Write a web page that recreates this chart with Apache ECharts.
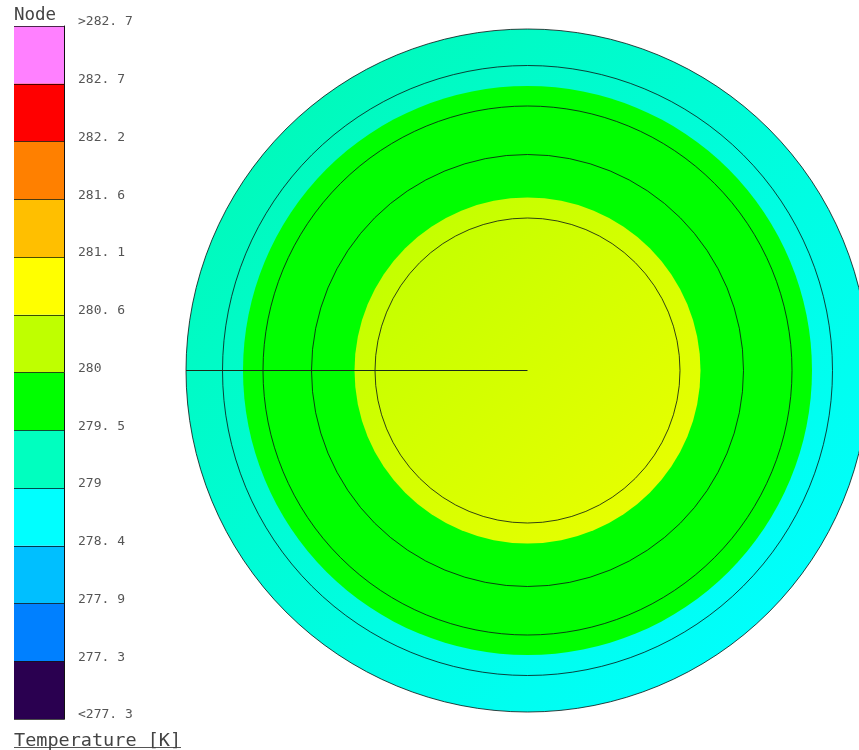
<!DOCTYPE html>
<html><head><meta charset="utf-8">
<style>html,body{margin:0;padding:0;background:#fff}#c{width:859px;height:750px}</style>
<script src="https://cdn.jsdelivr.net/npm/echarts@6/dist/echarts.min.js"></script>
</head><body><div id="c"></div>
<script>
const bandLabels = ['>282.7 band','282.7 band','282.2 band','281.6 band','281.1 band','280.6 band','280 band','279.5 band','279 band','278.4 band','277.9 band','277.3 band'];
const tickLabels = ['>282. 7','282. 7','282. 2','281. 6','281. 1','280. 6','280','279. 5','279','278. 4','277. 9','277. 3','<277. 3'];
const bandColors = ['#ff80ff','#ff0000','#ff8000','#ffbf00','#ffff00','#bfff00','#00ff00','#00ffbf','#00ffff','#00bfff','#0080ff','#2a0050'];
const bandExtent = [1,1,1,1,1,1,1,1,1,1,1,1];
const outerRadius = 341.5;
const zoneRadii = [341.5, 284.5, 173];
const contourRadii = [341.5, 305, 264.5, 216, 152.5];
const sliceLine = [0, 341.5];
const sector = ['disc'];

function grad(a, b) {
  return new echarts.graphic.LinearGradient(0.1, 0.1, 0.9, 0.9, [{offset:0,color:a},{offset:1,color:b}]);
}
const zoneFills = [grad('#00fab8','#00ffff'), '#00ff00', grad('#c2ff00','#e8ff00')];

const series = [];
zoneRadii.forEach((r, i) => series.push({
  type:'bar', coordinateSystem:'polar', polarIndex:0, barCategoryGap:'0%', barGap:'-100%',
  data:[r], itemStyle:{color:zoneFills[i]}, silent:true, z:2+i
}));
contourRadii.forEach(r => series.push({
  type:'bar', coordinateSystem:'polar', polarIndex:0, barCategoryGap:'0%', barGap:'-100%',
  data:[r], itemStyle:{color:'rgba(0,0,0,0)', borderColor:'rgba(10,20,20,0.8)', borderWidth:1}, silent:true, z:6
}));
series.push({
  type:'line', coordinateSystem:'polar', polarIndex:0, symbol:'none', silent:true, z:7,
  lineStyle:{color:'#1a2a1a', width:1},
  data: sliceLine.map(r => [r, sector[0]])
});
bandExtent.forEach((v, i) => series.push({
  type:'bar', xAxisIndex:0, yAxisIndex:0, stack:'bar', barWidth:'100%', silent:true,
  data: bandExtent.map((e, j) => j === i ? e : null),
  itemStyle:{color:bandColors[i]}
}));

const chart = echarts.init(document.getElementById('c'), null, {renderer:'canvas'});
chart.setOption({
  animation:false,
  backgroundColor:'#fff',
  title:[
    {text:'Node', left:14, top:6, padding:0, textStyle:{fontFamily:'DejaVu Sans Mono', fontSize:17.5, fontWeight:'normal', color:'#444'}},
    {text:'Temperature [K]', left:14, top:732, padding:0, textStyle:{fontFamily:'DejaVu Sans Mono', fontSize:18.5, fontWeight:'normal', color:'#444'}}
  ],
  polar:{center:[527.5,370.5], radius:outerRadius},
  angleAxis:{type:'category', data:sector, startAngle:0, boundaryGap:true, axisLine:{show:false}, axisTick:{show:false}, axisLabel:{show:false}, splitLine:{show:false}},
  radiusAxis:{type:'value', min:0, max:outerRadius, axisLine:{show:false}, axisTick:{show:false}, axisLabel:{show:false}, splitLine:{show:false}},
  grid:{left:14, top:26, width:50.5, height:693, show:false, borderWidth:0},
  xAxis:{type:'value', min:0, max:1, show:false, axisLine:{show:false}, splitLine:{show:false}},
  yAxis:[
    {type:'category', inverse:true, data:bandLabels, show:false, axisLine:{show:false}, splitLine:{show:false}},
    {type:'category', inverse:true, boundaryGap:false, position:'right', data:tickLabels, z:10,
     axisLine:{show:true, onZero:false, lineStyle:{color:'#111', width:1}},
     axisTick:{show:false},
     splitLine:{show:true, lineStyle:{color:'rgba(0,0,0,0.7)', width:1}},
     axisLabel:{show:true, interval:0, margin:13.5, verticalAlign:'bottom', lineHeight:8, fontFamily:'DejaVu Sans Mono', fontSize:13, color:'#555', showMinLabel:true, showMaxLabel:true}}
  ],
  graphic:[{type:'line', silent:true, shape:{x1:14,y1:747.5,x2:181,y2:747.5}, style:{stroke:'#555', lineWidth:1}}],
  series
});
</script></body></html>
